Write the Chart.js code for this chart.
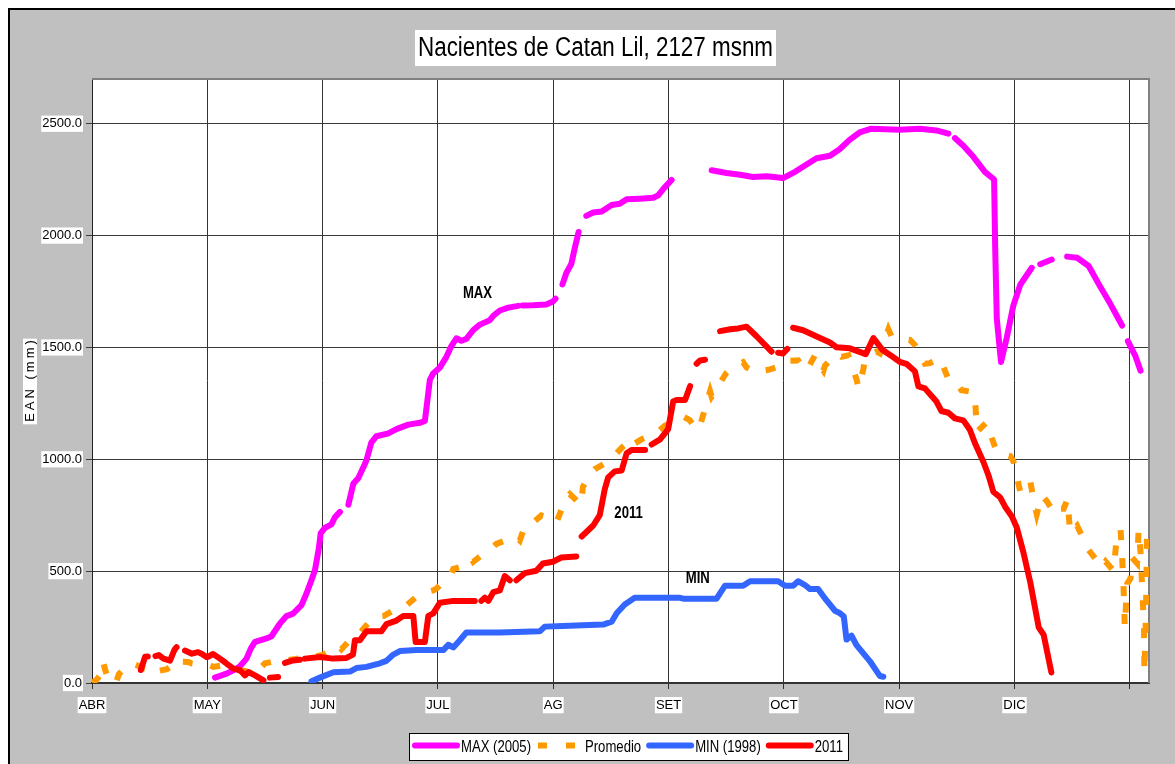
<!DOCTYPE html>
<html>
<head>
<meta charset="utf-8">
<script src="https://cdn.jsdelivr.net/npm/chart.js@4/dist/chart.umd.min.js"></script>
<style>
  html, body { margin: 0; padding: 0; background: #fff; }
  canvas { display: block; }
</style>
</head>
<body>
<canvas id="chart" width="1175" height="764"></canvas>
<script>
// day index (0 = 1 ABR, 30 per month tick) and EAN in mm; null = break in the line
const monthLabels = ["ABR", "MAY", "JUN", "JUL", "AG", "SET", "OCT", "NOV", "DIC"];
const yTicks = [0, 500, 1000, 1500, 2000, 2500];

const max2005 = [
  [32.0,24],[35.0,42],[36.8,57],[38.5,75],[40.2,109],[41.3,154],[42.4,184],[45.4,199],[46.7,209],
  [48.9,266],[50.6,299],[52.3,310],[54.5,348],[55.8,400],[57.1,460],[58.0,504],[59.0,600],[59.5,670],
  [60.6,693],[62.3,709],[63.2,741],[64.5,765],null,[66.7,797],[68.0,892],[69.3,916],[70.6,964],
  [71.4,996],[72.7,1076],[74.0,1103],[77.1,1116],[79.2,1135],[82.3,1155],[85.3,1163],[86.6,1171],
  [87.0,1227],[87.9,1355],[88.7,1382],[90.5,1410],[92.2,1458],[93.5,1506],[94.8,1541],[96.1,1530],
  [97.4,1538],[99.2,1578],[100.9,1602],[103.5,1622],[104.4,1641],[106.1,1665],[108.3,1678],[110.9,1686],
  null,[112.0,1688],[114.7,1689],[118.2,1692],[119.9,1705],[120.6,1718],null,[122.4,1782],[123.4,1833],
  [124.7,1873],[125.6,1944],[126.6,2016],null,[128.6,2088],[130.4,2103],[132.6,2108],[135.2,2137],
  [137.3,2142],[139.1,2162],[142.5,2165],[146.0,2169],[147.3,2180],[148.6,2208],[150.8,2249],null,
  [161.2,2292],[165.1,2280],[168.6,2272],[172.0,2262],[175.5,2265],[179.8,2257],[182.4,2280],[185.9,2318],
  [188.5,2346],[192.0,2357],[194.5,2386],[197.1,2428],[199.7,2461],[202.8,2478],[210.0,2473],[215.4,2478],
  [219.7,2470],[222.8,2456],null,[224.5,2436],[226.7,2402],[229.3,2352],[232.3,2285],[234.7,2251],
  [235.0,1931],[235.4,1629],[236.5,1435],[238.0,1544],[239.7,1687],[241.5,1780],[244.5,1856],null,
  [246.7,1872],[249.7,1893],null,[253.7,1906],[256.3,1901],[259.3,1864],[262.3,1772],[264.9,1696],
  [268.0,1598],null,[269.5,1528],[271.5,1460],[272.8,1396]
];

const promedio = [
  [0,0],[1.1,13],[2.4,40],[2.9,95],[3.4,60],[4.5,5],[6.2,0],[6.6,20],[7.0,40],[9.0,75],[10.2,89],
  [11.7,79],[13.5,65],[15.2,58],[15.6,42],[17.5,55],[19.5,62],[21.0,80],[21.3,100],[23.0,95],[25.0,94],
  [26.0,87],[28.0,82],[30.7,79],[31.6,72],[33.5,78],[35.5,65],[37.2,57],[39.5,55],[41.0,50],[42.5,45],
  [44.1,72],[45.0,88],[47.0,95],[50.0,100],[53.0,108],[56.0,115],[60.0,125],[64.1,167],[64.9,151],
  [67.9,207],[70.0,230],[73.2,295],[76.0,300],[80.1,343],[82.0,350],[85.3,398],[88.8,414],[89.6,422],
  [93.5,486],[94.0,510],[96.0,520],[98.7,558],[99.2,542],[102.0,580],[104.4,609],[105.2,622],[108.0,640],
  [110.4,653],[111.3,637],[112.6,701],[115.0,720],[116.9,749],[118.2,741],[120.8,717],[123.4,829],
  [124.3,845],[127.3,796],[127.7,876],[129.5,932],[130.8,956],[134.3,989],[135.2,1004],[138.2,1058],
  [140.4,1089],[140.8,1066],[143.0,1090],[145.6,1107],[146.9,1119],[149.0,1150],[151.2,1166],[154.0,1189],
  [155.5,1175],[157.3,1130],[158.2,1150],[160.8,1304],[161.2,1281],[165.1,1388],[166.0,1404],[169.4,1434],
  [170.3,1411],[172.9,1388],[174.2,1396],[176.0,1400],[178.1,1411],[179.0,1434],[181.0,1440],[183.7,1442],
  [184.6,1419],[185.9,1396],[188.1,1465],[188.5,1442],[190.3,1396],[190.7,1419],[193.7,1473],[195.0,1458],
  [196.8,1465],[198.9,1358],[199.4,1319],[200.7,1404],[201.1,1450],[204.1,1481],[205.0,1473],[207.2,1581],
  [208.0,1550],[210.0,1540],[212.8,1534],[214.1,1511],[216.7,1427],[218.0,1430],[219.7,1443],[220.6,1452],
  [222.8,1359],[224.5,1351],[226.2,1309],[229.3,1300],[229.7,1275],[230.3,1124],[232.8,1166],[233.2,1141],
  [235.4,1031],[238.9,1014],[239.7,993],[241.5,855],[241.9,871],[244.1,905],[245.0,813],[245.8,754],
  [247.1,838],[248.4,813],[250.6,754],[251.5,779],[252.8,779],[253.8,821],[254.5,670],[256.3,703],
  [258.4,628],[259.3,594],[262.8,518],[263.7,543],[265.8,501],[266.7,670],[267.6,686],[268.0,569],
  [268.4,417],[268.7,249],[269.3,443],[270.2,468],[270.6,560],[271.9,535],[272.3,686],[272.8,585],
  [273.2,434],[273.7,249],[273.8,47],[274.2,300],[274.5,670],[275.0,600]
];

const min1998 = [
  [57.1,8],[59.3,24],[62.8,48],[67.1,51],[68.8,67],[71.4,72],[74.9,88],[76.6,99],[78.4,127],[80.1,143],
  [84.4,147],[91.4,147],[92.7,171],[94.0,159],[95.7,191],[97.4,226],[106.1,226],[116.5,231],[117.8,252],
  [122.5,255],[133.0,261],[135.2,274],[136.5,312],[138.6,351],[141.2,381],[153.0,381],[153.8,377],
  [162.5,377],[164.7,435],[169.4,435],[171.2,455],[178.5,455],[180.3,435],[182.4,435],[183.7,455],
  [185.5,438],[186.8,420],[188.9,420],[191.1,369],[193.3,323],[194.6,312],[195.6,297],[196.3,194],
  [197.6,212],[198.9,169],[202.4,97],[205.0,31],[205.9,28]
];

const y2011 = [
  [12.7,58],[13.8,117],[14.5,118],null,[16.5,120],[17.4,125],[18.6,109],[20.3,100],[21.5,150],[22.0,160],
  null,[24.2,145],[26.0,131],[27.6,138],[28.5,131],[29.8,116],[30.2,117],[31.5,130],[33.3,109],[34.6,93],
  [35.0,87],[36.8,64],[38.5,57],[39.8,34],[40.7,49],[42.4,34],[44.6,12],null,[46.3,24],[48.4,27],null,
  [50.2,90],[52.3,101],[54.1,104],null,[55.4,109],[59.3,116],[62.7,109],[66.2,112],[67.9,127],[68.4,191],
  [69.7,191],[71.4,231],[75.3,231],[76.6,263],[79.2,279],[81.0,300],[83.6,300],[84.2,183],[86.6,183],
  [87.5,300],[88.8,311],[90.5,359],[94.0,367],[99.6,367],null,[101.3,367],[102.2,382],[103.1,367],
  [104.4,406],[106.1,414],[107.4,478],[108.7,459],null,[110.4,459],[112.6,491],[115.6,502],[117.3,534],
  [119.9,542],[122.1,561],[126.0,566],null,[127.4,655],[130.4,704],[132.1,750],[133.4,866],[134.3,919],
  [136.0,946],[137.8,950],[139.1,1027],[140.4,1042],[143.9,1042],null,[145.6,1066],[147.8,1089],
  [149.9,1135],[151.2,1258],[152.1,1265],[154.3,1265],[155.6,1327],null,[157.3,1427],[158.2,1442],
  [159.5,1445],null,[163.4,1573],[166.0,1581],[168.1,1585],[170.3,1593],[172.9,1550],[176.8,1481],null,
  [178.5,1476],[179.8,1473],[180.9,1493],null,[182.4,1588],[185.0,1577],[189.4,1542],[192.0,1522],
  [193.7,1501],[197.2,1496],[201.3,1470],[203.3,1542],[205.6,1490],[208.4,1457],[210.2,1435],[211.9,1427],
  [214.1,1393],[215.0,1326],[216.7,1317],[219.7,1258],[221.0,1216],[222.8,1208],[224.5,1183],[226.7,1174],
  [228.4,1132],[229.7,1073],[231.9,989],[233.2,930],[234.5,855],[236.3,829],[237.6,787],[239.3,745],
  [240.6,695],[242.3,585],[244.1,451],[246.3,249],[247.6,215],[249.6,47]
];

const annotations = [
  { text: "MAX", day: 100.3, value: 1741 },
  { text: "2011", day: 139.6, value: 757 },
  { text: "MIN", day: 157.6, value: 466 }
];

const SANS = "'Liberation Sans', Arial, sans-serif";
const NARROW_X = 0.82; // the original uses a narrow face, squeeze Liberation Sans to match

function toPoints(series) {
  const pts = [];
  series.forEach((p, i) => {
    if (p === null) {
      const prev = series[i - 1];
      pts.push({ x: prev[0] + 0.01, y: null });
    } else {
      pts.push({ x: p[0], y: p[1] });
    }
  });
  return pts;
}

function narrowText(ctx, text, x, y, sx) {
  ctx.save();
  ctx.translate(x, y);
  ctx.scale(sx, 1);
  ctx.fillText(text, 0, 0);
  ctx.restore();
}

const legendItems = [
  { label: "MAX (2005)", color: "#ff00ff", dash: [] },
  { label: "Promedio", color: "#ff9900", dash: [9, 19] },
  { label: "MIN (1998)", color: "#3366ff", dash: [] },
  { label: "2011", color: "#ff0000", dash: [] }
];

const decor = {
  id: "decor",
  beforeDraw(chart) {
    const { ctx, chartArea: a, width, height } = chart;
    ctx.save();
    ctx.fillStyle = "#fff";
    ctx.fillRect(0, 0, width, height);
    ctx.fillStyle = "#c0c0c0";
    ctx.fillRect(8, 8, width, height);
    ctx.strokeStyle = "#000";
    ctx.lineWidth = 2;
    ctx.strokeRect(9, 9, width + 20, height + 20);
    ctx.fillStyle = "#fff";
    ctx.fillRect(a.left, a.top, a.right - a.left, a.bottom - a.top);
    ctx.restore();
  },
  beforeDatasetsDraw(chart) {
    const { ctx, chartArea: a } = chart;
    ctx.save();
    ctx.strokeStyle = "#808080";
    ctx.lineWidth = 2;
    ctx.beginPath();
    ctx.moveTo(a.left, a.top);
    ctx.lineTo(a.right, a.top);
    ctx.lineTo(a.right, a.bottom);
    ctx.stroke();
    ctx.restore();
  },
  afterDraw(chart) {
    const { ctx, chartArea: a, scales: { x, y } } = chart;
    ctx.save();
    ctx.textBaseline = "middle";

    // title
    ctx.font = "27px " + SANS;
    const title = "Nacientes de Catan Lil, 2127 msnm";
    const tw = ctx.measureText(title).width * 0.83;
    const cx = 595.5;
    ctx.fillStyle = "#fff";
    ctx.fillRect(cx - tw / 2 - 3, 30, tw + 6, 36);
    ctx.fillStyle = "#000";
    ctx.textAlign = "center";
    narrowText(ctx, title, cx, 48.5, 0.83);

    // y axis title
    ctx.save();
    ctx.translate(30, (a.top + a.bottom) / 2);
    ctx.rotate(-Math.PI / 2);
    ctx.font = "13px " + SANS;
    ctx.letterSpacing = "3px";
    const yl = "EAN (mm)";
    const yw = ctx.measureText(yl).width;
    ctx.fillStyle = "#fff";
    ctx.fillRect(-yw / 2 - 1, -7, yw + 1, 14);
    ctx.fillStyle = "#000";
    ctx.fillText(yl, 1.5, 0.5);
    ctx.restore();

    // annotations
    ctx.font = "bold 16px " + SANS;
    ctx.fillStyle = "#000";
    ctx.textAlign = "center";
    annotations.forEach(n => {
      narrowText(ctx, n.text, x.getPixelForValue(n.day), y.getPixelForValue(n.value), NARROW_X);
    });

    // legend
    ctx.font = "16px " + SANS;
    const ly = 746.5;
    let lx = 412;
    const boxLeft = 409;
    const parts = legendItems.map(it => {
      const start = lx;
      const w = ctx.measureText(it.label).width * NARROW_X;
      lx = start + 49 + w + 5;
      return { it, start, w };
    });
    const boxRight = lx;
    ctx.fillStyle = "#fff";
    ctx.fillRect(boxLeft, 733, boxRight - boxLeft, 27);
    ctx.strokeStyle = "#000";
    ctx.lineWidth = 1;
    ctx.strokeRect(boxLeft + 0.5, 733.5, boxRight - boxLeft, 27);
    parts.forEach(({ it, start }) => {
      ctx.strokeStyle = it.color;
      ctx.lineWidth = 6;
      ctx.beginPath();
      if (it.dash.length) {
        ctx.setLineDash(it.dash);
        ctx.lineCap = "butt";
        ctx.moveTo(start + 2, ly - 1);
        ctx.lineTo(start + 48, ly - 1);
      } else {
        ctx.setLineDash([]);
        ctx.lineCap = "round";
        ctx.moveTo(start + 3, ly - 1);
        ctx.lineTo(start + 45, ly - 1);
      }
      ctx.stroke();
      ctx.setLineDash([]);
      ctx.fillStyle = "#000";
      ctx.textAlign = "left";
      narrowText(ctx, it.label, start + 49, ly + 1, NARROW_X);
    });
    ctx.restore();
  }
};

const lineStyle = {
  borderWidth: 6,
  pointRadius: 0,
  tension: 0,
  spanGaps: false,
  borderCapStyle: "round",
  borderJoinStyle: "round"
};

const tickFont = { family: SANS, size: 13, lineHeight: 1.25 };

new Chart(document.getElementById("chart"), {
  type: "line",
  data: {
    datasets: [
      { ...lineStyle, label: "MAX (2005)", data: toPoints(max2005), borderColor: "#ff00ff", order: 4 },
      { ...lineStyle, label: "Promedio", data: toPoints(promedio), borderColor: "#ff9900",
        borderDash: [10, 18], borderCapStyle: "butt", borderJoinStyle: "miter", order: 3 },
      { ...lineStyle, label: "MIN (1998)", data: toPoints(min1998), borderColor: "#3366ff", order: 2 },
      { ...lineStyle, label: "2011", data: toPoints(y2011), borderColor: "#ff0000", order: 1 }
    ]
  },
  options: {
    responsive: false,
    animation: false,
    layout: { padding: { left: 0, top: 79, right: 26, bottom: 50 } },
    plugins: {
      legend: { display: false },
      title: { display: false },
      tooltip: { enabled: false }
    },
    scales: {
      x: {
        type: "linear",
        min: 0,
        max: 275,
        afterBuildTicks: s => {
          s.ticks = monthLabels.concat([""]).map((_, i) => ({ value: i * 30 }));
        },
        afterFit: s => { s.height = 31; },
        grid: { color: "#333", lineWidth: 1, tickLength: 6 },
        border: { color: "#333", width: 2 },
        ticks: {
          callback: v => monthLabels[Math.round(v / 30)] || "",
          color: "#000",
          font: tickFont,
          padding: 8,
          maxRotation: 0,
          autoSkip: false,
          showLabelBackdrop: true,
          backdropColor: c => (c.tick && c.tick.label) ? "#fff" : "rgba(0,0,0,0)",
          backdropPadding: { top: 0, bottom: 0, left: 1, right: 1 }
        }
      },
      y: {
        min: 0,
        max: 2700,
        afterBuildTicks: s => {
          s.ticks = yTicks.map(v => ({ value: v }));
        },
        afterFit: s => { s.width = 92; },
        grid: { color: "#3a3a3a", lineWidth: 1, tickLength: 6 },
        border: { color: "#222", width: 1 },
        ticks: {
          callback: v => v.toFixed(1),
          color: "#000",
          font: tickFont,
          padding: 4,
          showLabelBackdrop: true,
          backdropColor: "#fff",
          backdropPadding: { top: 0, bottom: 0, left: 1, right: 1 }
        }
      }
    }
  },
  plugins: [decor]
});
</script>
</body>
</html>
